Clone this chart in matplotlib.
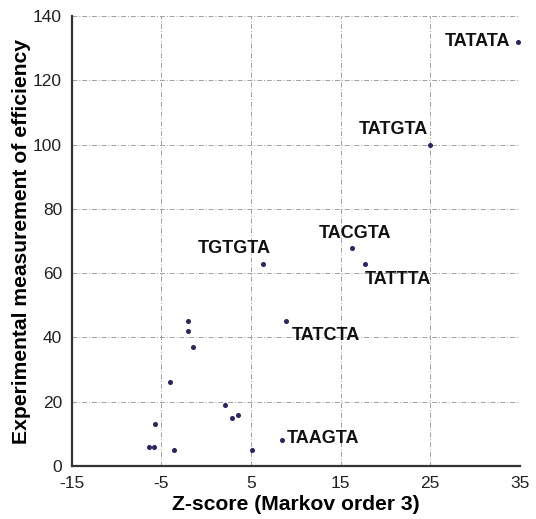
import matplotlib.pyplot as plt

plt.rcParams['font.family'] = ['Liberation Sans', 'DejaVu Sans']
plt.rcParams['axes.unicode_minus'] = False

# --- Datos ---
z_score = [34.8, 25.0, 16.3, 17.7, 6.3, 8.9, 8.5,
           -2.0, -2.0, -1.5, -4.0, 2.1, 2.9, 3.5, -5.7, -6.4, -5.8, -3.6, 5.1]
efficiency = [132, 100, 68, 63, 63, 45, 8,
              45, 42, 37, 26, 19, 15, 16, 13, 6, 6, 5, 5]

# etiquetas: (indice, texto, desplazamiento en puntos, alineacion)
labels = [
    (0, "TATATA", (-6, 0), "right", "center"),
    (1, "TATGTA", (-2, 5), "right", "bottom"),
    (2, "TACGTA", (-24, 4), "left", "bottom"),
    (3, "TATTTA", (0, -5), "left", "top"),
    (4, "TGTGTA", (6, 5), "right", "bottom"),
    (5, "TATCTA", (4, -4), "left", "top"),
    (6, "TAAGTA", (3, 1), "left", "center"),
]

x_ticks = [-15, -5, 5, 15, 25, 35]
y_ticks = list(range(0, 141, 20))

fig = plt.figure(figsize=(5.36, 5.19), dpi=100)
ax = fig.add_axes([0.134, 0.102, 0.836, 0.867])

ax.plot(z_score, efficiency, 'o', color='#2b2466', markersize=2.6, zorder=3)

for i, txt, off, ha, va in labels:
    ax.annotate(txt, (z_score[i], efficiency[i]), xytext=off, textcoords='offset points',
                ha=ha, va=va, fontsize=13, fontweight='bold', color='#111111')

ax.set_xlim(-15, 35)
ax.set_ylim(0, 140)
ax.set_xticks(x_ticks)
ax.set_yticks(y_ticks)
ax.tick_params(length=0, labelsize=12.5, pad=7, colors='#222222')

ax.grid(True, linestyle=(0, (5, 2, 1, 2)), color='#a0a0a0', linewidth=0.7)
for s in ['top', 'right']:
    ax.spines[s].set_visible(False)
ax.spines['left'].set_linewidth(1.6)
ax.spines['bottom'].set_linewidth(1.6)
ax.spines['left'].set_color('#333333')
ax.spines['bottom'].set_color('#333333')

ax.set_xlabel("Z-score (Markov order 3)", fontsize=15.2, fontweight='bold', labelpad=3)
ax.set_ylabel("Experimental measurement of efficiency", fontsize=15.2, fontweight='bold', labelpad=1.5)

fig.savefig("out.png", dpi=100)
